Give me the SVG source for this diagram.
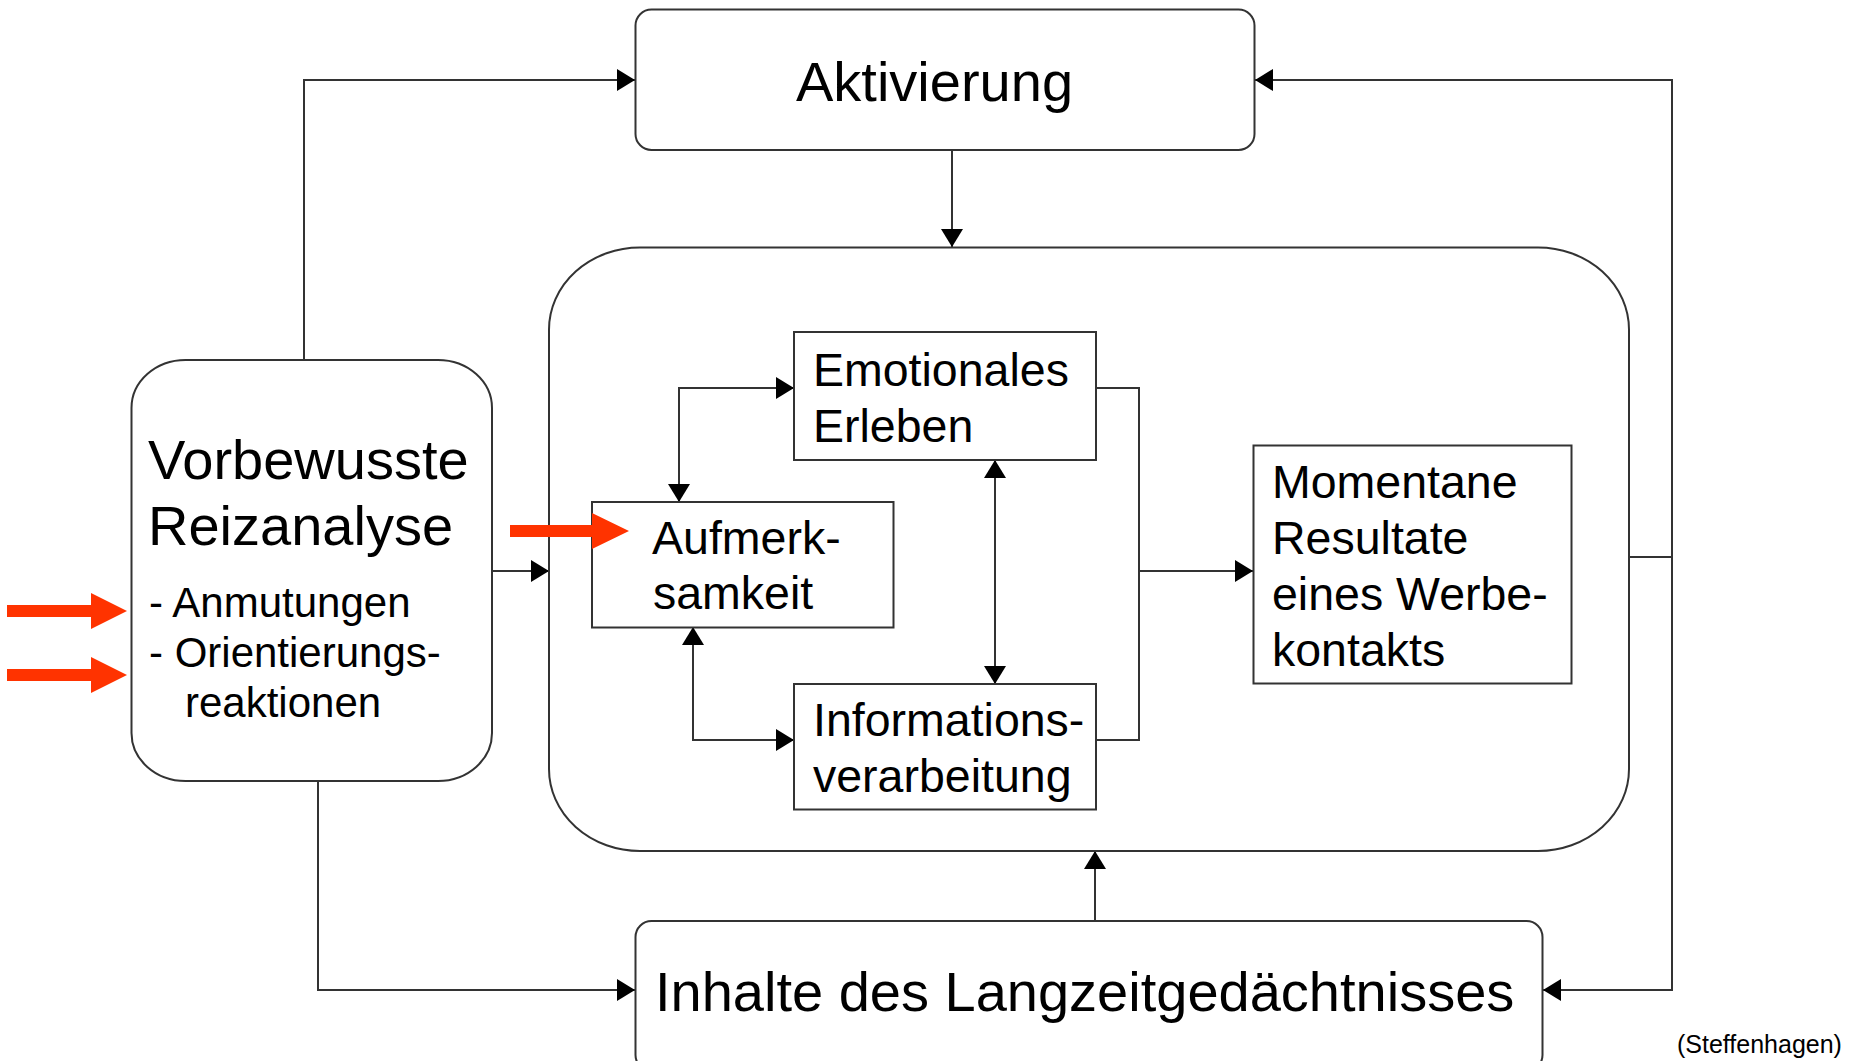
<svg xmlns="http://www.w3.org/2000/svg" width="1862" height="1061" viewBox="0 0 1862 1061">
  <defs>
    <style>
      .box { fill: #ffffff; stroke: #333333; stroke-width: 2; }
      .conn { fill: none; stroke: #333333; stroke-width: 2; }
      .t { font-family: "Liberation Sans", Arial, sans-serif; fill: #000000; }
      .big { font-size: 56px; }
      .mid { font-size: 46.5px; }
      .small { font-size: 42px; }
      .red { fill: #ff3300; }
    </style>
    <marker id="ah" markerUnits="userSpaceOnUse" markerWidth="19" markerHeight="22" refX="18" refY="11" orient="auto-start-reverse" viewBox="0 0 19 22">
      <path d="M0,0 L18,11 L0,22 z" fill="#000000"/>
    </marker>
  </defs>
  <rect width="1862" height="1061" fill="#ffffff"/>

  <g id="connectors">
    <path class="conn" d="M304,360 V80 H635" marker-end="url(#ah)"/>
    <path class="conn" d="M1629,557 H1672"/>
    <path class="conn" d="M1672,557 V80 H1255" marker-end="url(#ah)"/>
    <path class="conn" d="M1672,557 V990 H1543" marker-end="url(#ah)"/>
    <path class="conn" d="M952,150 V247" marker-end="url(#ah)"/>
    <path class="conn" d="M492,571 H549" marker-end="url(#ah)"/>
    <path class="conn" d="M318,781 V990 H635" marker-end="url(#ah)"/>
    <path class="conn" d="M1095,921 V851" marker-end="url(#ah)"/>
    <path class="conn" d="M679,502 V388 H794" marker-start="url(#ah)" marker-end="url(#ah)"/>
    <path class="conn" d="M693,627 V740 H794" marker-start="url(#ah)" marker-end="url(#ah)"/>
    <path class="conn" d="M995,460 V684" marker-start="url(#ah)" marker-end="url(#ah)"/>
    <path class="conn" d="M1096,388 H1139 V740 H1096"/>
    <path class="conn" d="M1139,571 H1253" marker-end="url(#ah)"/>
  </g>

  <g id="aktivierung">
    <rect class="box" x="635.5" y="9.5" width="619" height="140.5" rx="16" ry="16"/>
    <text class="t big" x="796" y="101">Aktivierung</text>
  </g>

  <g id="container">
    <rect class="box" x="549" y="247.5" width="1080" height="603.5" rx="91" ry="82" style="fill:none"/>
  </g>

  <g id="vorbewusste">
    <rect class="box" x="131.5" y="360" width="360.5" height="421" rx="54" ry="48"/>
    <text class="t big" x="148" y="479">Vorbewusste</text>
    <text class="t big" x="148" y="545">Reizanalyse</text>
    <text class="t small" x="149" y="617">- Anmutungen</text>
    <text class="t small" x="149" y="667">- Orientierungs-</text>
    <text class="t small" x="185" y="717">reaktionen</text>
  </g>

  <g id="aufmerksamkeit">
    <rect class="box" x="592" y="502" width="301.5" height="125.5"/>
    <text class="t mid" x="652" y="554">Aufmerk-</text>
    <text class="t mid" x="653" y="609">samkeit</text>
  </g>

  <g id="emotionales">
    <rect class="box" x="794" y="332" width="302" height="128"/>
    <text class="t mid" x="813" y="386">Emotionales</text>
    <text class="t mid" x="813" y="442">Erleben</text>
  </g>

  <g id="informationsverarbeitung">
    <rect class="box" x="794" y="684" width="302" height="125.5"/>
    <text class="t mid" x="813" y="736">Informations-</text>
    <text class="t mid" x="813" y="792">verarbeitung</text>
  </g>

  <g id="momentane">
    <rect class="box" x="1253.5" y="445.5" width="318" height="238"/>
    <text class="t mid" x="1272" y="498">Momentane</text>
    <text class="t mid" x="1272" y="554">Resultate</text>
    <text class="t mid" x="1272" y="610">eines Werbe-</text>
    <text class="t mid" x="1272" y="666">kontakts</text>
  </g>

  <g id="langzeit">
    <rect class="box" x="635.5" y="921" width="907" height="150" rx="16" ry="16"/>
    <text class="t big" x="655" y="1011">Inhalte des Langzeitgedächtnisses</text>
  </g>

  <g id="red-arrows">
    <polygon class="red" points="7,605 91,605 91,593 127,611 91,629 91,617 7,617"/>
    <polygon class="red" points="7,669 91,669 91,657 127,675 91,693 91,681 7,681"/>
    <polygon class="red" points="510,525 592,525 592,513 629,531 592,549 592,537 510,537"/>
  </g>

  <text class="t" x="1677" y="1053" style="font-size:25px">(Steffenhagen)</text>
</svg>
